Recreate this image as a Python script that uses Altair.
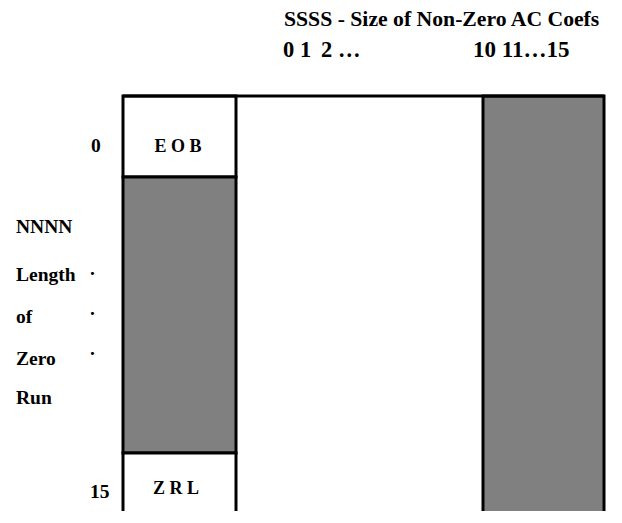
import altair as alt
import pandas as pd

# Diagram grid (drawing units, y grows downward)
cell_name = ["EOB", "gray_left", "ZRL", "gray_right"]
cell_x0 = [123, 123, 123, 483]
cell_x1 = [236, 236, 236, 604]
cell_y0 = [96, 177, 453, 96]
cell_y1 = [177, 453, 540, 540]
cell_fill = ["#ffffff", "#808080", "#ffffff", "#808080"]

top_x0 = [123]
top_x1 = [604]
top_y = [96]

# Left-aligned texts
ltext = ["SSSS - Size of Non-Zero AC Coefs", "0 1", "2 \u2026", "10 11\u202615",
         "0", "NNNN", "Length", "of", "Zero", "Run", "15", ".", ".", "."]
ltext_x = [284, 283, 321, 473, 91, 16, 16, 16, 16, 16, 90, 90, 90, 90]
ltext_y = [26, 57, 57, 57, 152, 233, 281, 323, 365, 404, 498, 275, 315, 355]
ltext_size = [21.7, 22.5, 22.5, 23, 19.5, 19.5, 19.5, 19.5, 19.5, 19.5, 19.5, 19.5, 19.5, 19.5]

# Centered cell labels
ctext = ["E O B", "Z R L"]
ctext_x = [178, 176]
ctext_y = [152, 494]

cells = pd.DataFrame({"name": cell_name, "x0": cell_x0, "x1": cell_x1,
                      "y0": cell_y0, "y1": cell_y1, "fill": cell_fill})
tops = pd.DataFrame({"x0": top_x0, "x1": top_x1, "y": top_y})
lt = pd.DataFrame({"t": ltext, "x": ltext_x, "y": ltext_y, "s": ltext_size})
ct = pd.DataFrame({"t": ctext, "x": ctext_x, "y": ctext_y})

FONT = "Liberation Serif"

xs = alt.Scale(domain=[8, 614], nice=False, zero=False)
ys = alt.Scale(domain=[8, 511], nice=False, zero=False, reverse=True)

rects = alt.Chart(cells).mark_rect(stroke="black", strokeWidth=3, clip=True).encode(
    x=alt.X("x0:Q", scale=xs, axis=None),
    x2="x1:Q",
    y=alt.Y("y0:Q", scale=ys, axis=None),
    y2="y1:Q",
    fill=alt.Fill("fill:N", scale=None),
)

top = alt.Chart(tops).mark_rule(color="black", strokeWidth=3).encode(
    x=alt.X("x0:Q", scale=xs, axis=None),
    x2="x1:Q",
    y=alt.Y("y:Q", scale=ys, axis=None),
)

ltexts = alt.Chart(lt).mark_text(
    align="left", baseline="alphabetic", font=FONT,
    fontWeight="bold", color="black"
).encode(
    x=alt.X("x:Q", scale=xs, axis=None),
    y=alt.Y("y:Q", scale=ys, axis=None),
    text="t:N",
    size=alt.Size("s:Q", scale=None),
)

ctexts = alt.Chart(ct).mark_text(
    align="center", baseline="alphabetic", font=FONT,
    fontWeight="bold", color="black", fontSize=18
).encode(
    x=alt.X("x:Q", scale=xs, axis=None),
    y=alt.Y("y:Q", scale=ys, axis=None),
    text="t:N",
)

chart = alt.layer(rects, top, ltexts, ctexts).properties(
    width=606, height=503, padding=0,
    autosize=alt.AutoSizeParams(type="none"),
).configure_view(stroke=None)

chart.save("out.html", embed_options={"renderer": "svg", "actions": False})
